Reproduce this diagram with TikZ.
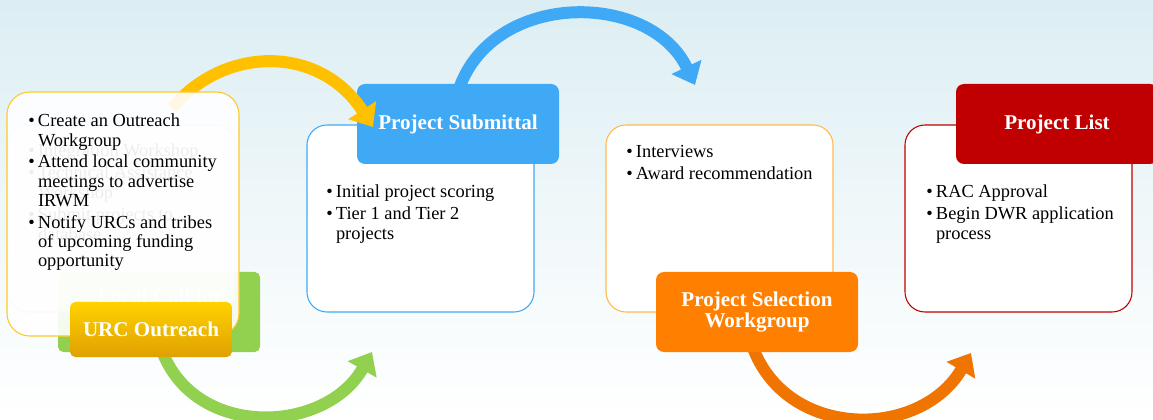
\documentclass[tikz,border=0pt]{standalone}
\usepackage{fontspec}
\setmainfont{Liberation Serif}
\usetikzlibrary{arrows.meta}
\definecolor{bgtop}{RGB}{220,238,243}
\definecolor{cyel}{RGB}{255,192,0}
\definecolor{cblue}{RGB}{63,169,245}
\definecolor{cgreen}{RGB}{146,208,80}
\definecolor{corange}{RGB}{255,128,0}
\definecolor{corarrow}{RGB}{240,116,0}
\definecolor{cred}{RGB}{192,0,0}
\definecolor{coborder}{RGB}{255,185,80}
\definecolor{cyborder}{RGB}{255,200,40}
\definecolor{gtop}{RGB}{255,210,0}
\definecolor{gbot}{RGB}{224,160,0}
\newcommand\bul[1]{\par\hangindent=7.3pt\hangafter=1\noindent\makebox[7.3pt][l]{\textbullet}#1}
\newcommand\blist[2]{\parbox[t]{#1}{\fontsize{13.8pt}{15pt}\selectfont\raggedright\parskip=1.5pt #2}}
\tikzset{
  panel/.style={draw, fill=white, rounded corners=15pt, minimum width=170.25pt, minimum height=140.25pt, line width=0.8pt, inner sep=0pt},
  head/.style={rounded corners=6pt, minimum width=151.5pt, minimum height=60pt, text=white, font=\fontsize{15.8pt}{16pt}\selectfont\bfseries, align=center, inner sep=0pt},
  flow/.style={line width=9pt, -{Triangle[length=15pt,width=24pt]}},
  txt/.style={anchor=base west, inner sep=0pt},
}
\begin{document}
\begin{tikzpicture}[x=0.75pt,y=-0.75pt]
\useasboundingbox (0,0) rectangle (1153,420);
\begin{scope}
\clip (0,0) rectangle (1153,420);
\shade[top color=bgtop, bottom color=white, middle color=bgtop!45] (0,0) rectangle (1153,420);

% panel 2
\node[panel, draw=cblue] (p2) at (420.5,218.5) {};
\node[txt] (t2) at (326,198) {\blist{150pt}{\bul{Initial project scoring}\bul{Tier 1 and Tier 2\newline projects}}};
\coordinate (bs) at (458,92);
\coordinate (be) at (695,85);
\draw[flow, cblue] (bs) .. controls (490,-10) and (650,-10) .. (be);
\node[head, fill=cblue] (h2) at (458,124) {Project Submittal};

% panel 1 with ghost layer
\node[rounded corners=4pt, fill=cgreen, minimum width=151.5pt, minimum height=60pt, inner sep=0pt] (g1) at (159,312) {};
\node[font=\fontsize{15.8pt}{16pt}\selectfont\bfseries, text=white, anchor=base] (g1t) at (160,303) {Local Call for};
\node[panel, draw=gray!40, fill=white, fill opacity=0.6] (gp) at (121.5,218.5) {};
\node[txt, text=black!70] (gt) at (28,157) {\blist{160pt}{\bul{Integration Workshop}\bul{Technical Assistance\newline Workshop}\bul{Submit projects to\newline database}}};
\coordinate (ys) at (172,108);
\coordinate (ye) at (373,127);
\draw[flow, cyel] (ys) .. controls (225,45) and (320,45) .. (ye);
\node[panel, draw=cyborder, fill opacity=0.9, rounded corners=17pt, minimum width=174pt, minimum height=183pt] (p1) at (123,214) {};
\node[txt] (t1) at (28,126.7) {\blist{160pt}{\fontsize{13.8pt}{14.6pt}\selectfont\bul{Create an Outreach\newline Workgroup}\bul{Attend local community\newline meetings to advertise\newline IRWM}\bul{Notify URCs and tribes\newline of upcoming funding\newline opportunity}}};
\coordinate (gs) at (160,345);
\coordinate (ge) at (372,352);
\draw[flow, cgreen] (gs) .. controls (190,440) and (325,435) .. (ge);
\node[head, top color=gtop, bottom color=gbot, minimum width=121.5pt, minimum height=41.25pt, rounded corners=4pt] (h1) at (151,329.5) {URC Outreach};

% panel 3
\node[panel, draw=coborder] (p3) at (719.5,218.5) {};
\node[txt] (t3) at (626,158) {\blist{150pt}{\bul{Interviews}\bul{Award recommendation}}};
\coordinate (os) at (752,345);
\coordinate (oe) at (971,353);
\draw[flow, corarrow] (os) .. controls (785,440) and (920,440) .. (oe);
\node[head, fill=corange] (h3) at (757,312) {Project Selection\\Workgroup};

% panel 4
\node[panel, draw=cred] (p4) at (1018.5,218.5) {};
\node[txt] (t4) at (926,198) {\blist{150pt}{\bul{RAC Approval}\bul{Begin DWR application\newline process}}};
\node[head, fill=cred] (h4) at (1057,124) {Project List};
\end{scope}
\end{tikzpicture}
\end{document}
